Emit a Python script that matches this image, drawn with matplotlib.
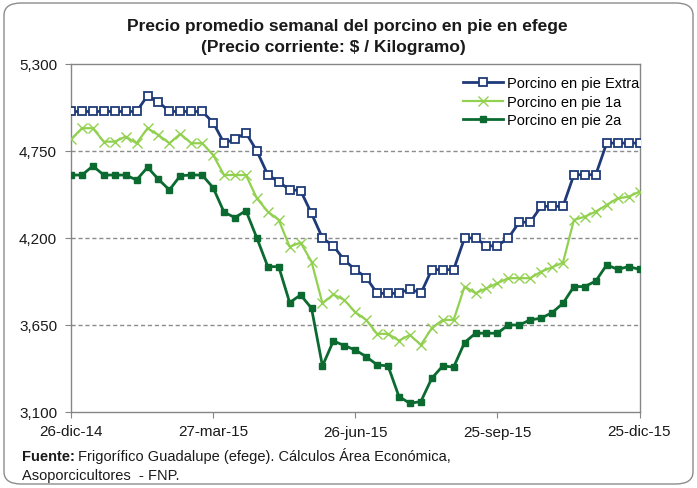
import matplotlib
matplotlib.use("Agg")
import matplotlib.pyplot as plt
from matplotlib.patches import FancyBboxPatch
from matplotlib.ticker import FuncFormatter
import numpy as np

plt.rcParams['font.family'] = ['Liberation Sans', 'DejaVu Sans']

# ---------------- data ----------------
tick_labels = ["26-dic-14", "27-mar-15", "26-jun-15", "25-sep-15", "25-dic-15"]
tick_weeks = [0, 13, 26, 39, 52]

extra = [5000, 5000, 5000, 5000, 5000, 5000, 5000, 5100, 5060, 5000, 5000, 5000, 5000,
         4930, 4800, 4825, 4865, 4750, 4600, 4555, 4505, 4500, 4355, 4200, 4150, 4060,
         4000, 3950, 3850, 3850, 3850, 3880, 3850, 4000, 4000, 4000, 4200, 4200, 4150,
         4150, 4200, 4300, 4300, 4400, 4400, 4400, 4600, 4600, 4600, 4800, 4800, 4800, 4800]

primera = [4824, 4894, 4894, 4809, 4809, 4841, 4799, 4894, 4851, 4799, 4858, 4799, 4799,
           4725, 4598, 4598, 4598, 4451, 4367, 4314, 4145, 4171, 4050,
           3787, 3843, 3808, 3731, 3682, 3594, 3594, 3551, 3587, 3524,
           3630, 3682, 3682, 3893, 3851, 3882, 3914, 3946, 3946, 3946,
           3987, 4015, 4044, 4314, 4335, 4367, 4409, 4451, 4461, 4493]

segunda = [4598, 4598, 4655, 4598, 4598, 4598, 4567, 4647, 4571, 4504, 4594, 4598, 4598,
           4518, 4363, 4329, 4373, 4200, 4019, 4019, 3792, 3840, 3756,
           3391, 3549, 3520, 3492, 3450, 3398, 3391, 3197, 3155, 3166,
           3313, 3391, 3384, 3539, 3598, 3598, 3598, 3650, 3650, 3682,
           3693, 3728, 3787, 3893, 3893, 3928, 4030, 4002, 4019, 4002]

series_names = ["Porcino en pie Extra", "Porcino en pie 1a", "Porcino en pie 2a"]
y_ticks = [3100, 3650, 4200, 4750, 5300]

weeks = np.arange(len(extra))

# ---------------- figure ----------------
W, H = 697, 489
fig = plt.figure(figsize=(W / 100, H / 100), dpi=100)
fig.patch.set_facecolor("white")

# rounded outer border
border = FancyBboxPatch((4 / W, 4 / H), (W - 8) / W, (H - 8) / H,
                        boxstyle="round,pad=0,rounding_size=0.025",
                        transform=fig.transFigure, facecolor="none",
                        edgecolor="#8c8c8c", linewidth=1.0, zorder=-1)
fig.patches.append(border)

left, right, top, bottom = 71, 639.5, 65, 413
ax = fig.add_axes([left / W, 1 - bottom / H, (right - left) / W, (bottom - top) / H])
ax.set_facecolor("none")

navy = "#1F3A78"
lgreen = "#92D050"
dgreen = "#0B6A30"

ax.plot(weeks, extra, color=navy, lw=2.0, marker="s", ms=6.4,
        mfc="white", mec=navy, mew=1.3, label=series_names[0], zorder=4)
ax.plot(weeks, primera, color=lgreen, lw=1.6, marker="x", ms=6.5,
        mec=lgreen, mew=1.0, label=series_names[1], zorder=3)
ax.plot(weeks, segunda, color=dgreen, lw=2.0, marker="s", ms=3.8,
        mfc=dgreen, mec=dgreen, label=series_names[2], zorder=3)

ax.set_xlim(0, 52)
ax.set_ylim(3100, 5300)
ax.set_xticks(tick_weeks)
ax.set_xticklabels(tick_labels)
ax.set_yticks(y_ticks)
ax.yaxis.set_major_formatter(FuncFormatter(lambda v, p: f"{int(v):,}"))

for g in [3650, 4200, 4750]:
    ax.axhline(g, color="#8c8c8c", lw=1.0, ls=(0, (3, 2)), zorder=1)

for s in ax.spines.values():
    s.set_color("#868686")
    s.set_linewidth(1.0)

ax.tick_params(axis="both", direction="out", length=4, color="#868686",
               labelsize=11, labelcolor="#1a1a1a")
ax.tick_params(axis="x", pad=5)
ax.tick_params(axis="y", pad=6)

leg = ax.legend(loc="upper left", bbox_to_anchor=(463 / W, 1 - 77 / H),
                bbox_transform=fig.transFigure, frameon=False,
                fontsize=10.5, handlelength=2.75, handletextpad=0.3,
                labelspacing=0.32, borderpad=0, borderaxespad=0)

# title
fig.text(347 / W, 1 - 27 / H, "Precio promedio semanal del porcino en pie en efege",
         ha="center", va="center", fontsize=12.5, fontweight="bold", color="#1a1a1a")
fig.text(333 / W, 1 - 47.5 / H, "(Precio corriente: $ / Kilogramo)",
         ha="center", va="center", fontsize=12.5, fontweight="bold", color="#1a1a1a")

# footer
fig.canvas.draw()
renderer = fig.canvas.get_renderer()
t1 = fig.text(22 / W, 1 - 461 / H, "Fuente:", ha="left", va="baseline",
              fontsize=10.5, fontweight="bold", color="#1a1a1a")
bb = t1.get_window_extent(renderer=renderer)
fig.text((bb.x1 + 3) / W, 1 - 461 / H,
         "Frigorífico Guadalupe (efege). Cálculos Área Económica,",
         ha="left", va="baseline", fontsize=10.5, color="#1a1a1a")
fig.text(22 / W, 1 - 480 / H, "Asoporcicultores  - FNP.", ha="left", va="baseline",
         fontsize=10.5, color="#1a1a1a")

fig.savefig("out.png", dpi=100)
